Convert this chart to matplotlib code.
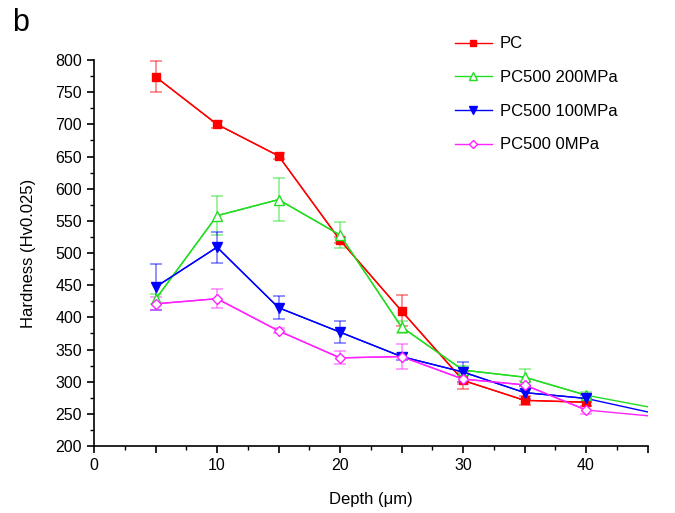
import numpy as np
import matplotlib
matplotlib.use("Agg")
import matplotlib.pyplot as plt
from matplotlib.ticker import MultipleLocator, FuncFormatter

plt.rcParams['font.family'] = ['Liberation Sans', 'DejaVu Sans']

# depth values (um)
depth = [5, 10, 15, 20, 25, 30, 35, 40]
depth_ext = [5, 10, 15, 20, 25, 30, 35, 40, 45]

# PC
pc = [774, 700, 651, 520, 410, 302, 271, 268]
pc_err = [24, 5, 5, 5, 24, 13, 7, 6]

# PC500 200MPa (line continues to 45 without marker)
pc200 = [428, 558, 583, 528, 385, 318, 307, 279, 261]
pc200_err = [8, 30, 34, 20, 10, 6, 13, 5]

# PC500 100MPa
pc100 = [447, 509, 415, 377, 339, 315, 283, 274, 253]
pc100_err = [36, 24, 18, 17, 6, 15, 10, 6]

# PC500 0MPa
pc0 = [421, 429, 379, 337, 339, 304, 295, 256, 247]
pc0_err = [10, 15, 4, 10, 19, 8, 6, 6]

fig = plt.figure(figsize=(6.75, 5.13), dpi=100)
ax = fig.add_axes([0.1393, 0.1306, 0.8200, 0.7524])

series = [
    (pc, pc_err, 'PC', '#ff0000', 's', '#ff0000', 5.5),
    (pc200, pc200_err, 'PC500 200MPa', '#22dd22', '^', 'white', 7),
    (pc100, pc100_err, 'PC500 100MPa', '#0000ff', 'v', '#0000ff', 7),
    (pc0, pc0_err, 'PC500 0MPa', '#ff22ff', 'D', 'white', 5.5),
]

for vals, errs, label, col, mk, fc, ms in series:
    ax.plot(depth_ext[:len(vals)], vals, '-', color=col, lw=1.0, zorder=2)
    ax.errorbar(depth, vals[:len(depth)], yerr=errs, fmt='none', ecolor=col,
                alpha=0.5, elinewidth=1.2, capsize=4, capthick=1.2, zorder=3)
    ax.plot(depth, vals[:len(depth)], linestyle='-', lw=1.0, color=col,
            marker=mk, markersize=ms, markerfacecolor=fc,
            markeredgecolor=col, markeredgewidth=1.0, label=label, zorder=4)

ax.set_xlim(0, 45)
ax.set_ylim(200, 800)
ax.spines['top'].set_visible(False)
ax.spines['right'].set_visible(False)
for s in ['left', 'bottom']:
    ax.spines[s].set_linewidth(1.2)

ax.xaxis.set_major_locator(MultipleLocator(5))
ax.xaxis.set_minor_locator(MultipleLocator(2.5))
ax.xaxis.set_major_formatter(FuncFormatter(lambda v, p: '%d' % v if v % 10 == 0 and v < 45 else ''))
ax.yaxis.set_major_locator(MultipleLocator(50))
ax.yaxis.set_minor_locator(MultipleLocator(25))
ax.tick_params(which='major', direction='out', length=5, width=1.2, labelsize=11.5)
ax.tick_params(which='minor', direction='out', length=3, width=1.0)

ax.set_xlabel('Depth (\u03bcm)', fontsize=12, labelpad=14)
ax.set_ylabel('Hardness (Hv0.025)', fontsize=12, labelpad=14)

fig.text(0.018, 0.94, 'b', fontsize=22, ha='left', va='baseline')

leg = ax.legend(loc='upper left', bbox_to_anchor=(0.625, 1.10), frameon=False,
                fontsize=12, handlelength=2.2, labelspacing=1.12,
                handletextpad=0.5, markerscale=0.75)

fig.savefig('out.png', dpi=100)
